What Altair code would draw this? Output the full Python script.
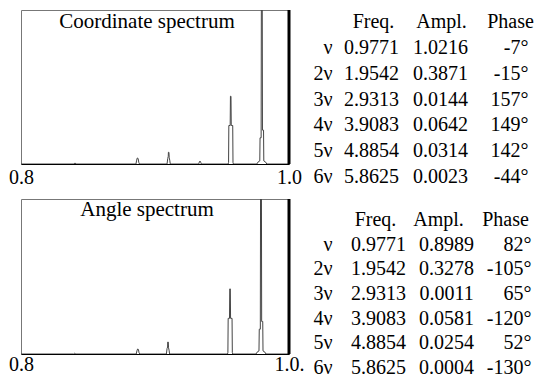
import altair as alt
import pandas as pd

FONT = "Liberation Serif, Times New Roman, Times, serif"

# ---------------- spectrum data (frequency, relative amplitude) ----------------
coord_f = [0.8000, 0.8395, 0.8403, 0.8411,
           0.8858, 0.8863, 0.8868, 0.8874, 0.8879, 0.8884,
           0.9090, 0.9095, 0.9099, 0.9100, 0.9104, 0.9106, 0.9110, 0.9114,
           0.9326, 0.9331, 0.9336, 0.9341, 0.9346,
           0.9546, 0.9549, 0.9551, 0.9561, 0.9563, 0.9567, 0.9569, 0.9580, 0.9582, 0.9585,
           0.9760, 0.9768, 0.9782, 0.9784, 0.9792, 0.9794, 0.9800, 0.9802, 0.9810, 0.9812, 0.9826, 0.9834,
           1.0000]
coord_a = [0.0, 0.0, 0.007, 0.0,
           0.0, 0.025, 0.039, 0.036, 0.010, 0.0,
           0.0, 0.035, 0.050, 0.076, 0.076, 0.040, 0.025, 0.0,
           0.0, 0.013, 0.019, 0.011, 0.0,
           0.0, 0.010, 0.25, 0.25, 0.44, 0.44, 0.25, 0.25, 0.010, 0.0,
           0.0, 0.012, 0.020, 0.17, 0.17, 1.2, 1.2, 0.22, 0.22, 0.020, 0.012, 0.0,
           0.0]

angle_f = [0.8000, 0.8393, 0.8401, 0.8409,
           0.8860, 0.8865, 0.8870, 0.8876, 0.8881, 0.8886,
           0.9085, 0.9090, 0.9094, 0.9095, 0.9099, 0.9101, 0.9105, 0.9109,
           0.9541, 0.9544, 0.9546, 0.9556, 0.9558, 0.9562, 0.9564, 0.9575, 0.9577, 0.9580,
           0.9754, 0.9762, 0.9776, 0.9778, 0.9786, 0.9788, 0.9794, 0.9796, 0.9804, 0.9806, 0.9820, 0.9828,
           1.0000]
angle_a = [0.0, 0.0, 0.005, 0.0,
           0.0, 0.020, 0.032, 0.030, 0.008, 0.0,
           0.0, 0.035, 0.045, 0.077, 0.077, 0.040, 0.025, 0.0,
           0.0, 0.010, 0.23, 0.23, 0.42, 0.42, 0.23, 0.23, 0.010, 0.0,
           0.0, 0.012, 0.020, 0.16, 0.16, 1.2, 1.2, 0.21, 0.21, 0.020, 0.012, 0.0,
           0.0]

# ---------------- table data ----------------
harmonics = ["ν", "2ν", "3ν", "4ν", "5ν", "6ν"]
rows = [1, 2, 3, 4, 5, 6]
freqs = [0.9771, 1.9542, 2.9313, 3.9083, 4.8854, 5.8625]
coord_ampl = [1.0216, 0.3871, 0.0144, 0.0642, 0.0314, 0.0023]
coord_phase = [-7, -15, 157, 149, 142, -44]
angle_ampl = [0.8989, 0.3278, 0.0011, 0.0581, 0.0254, 0.0004]
angle_phase = [82, -105, 65, -120, 52, -130]
headers = ["Freq.", "Ampl.", "Phase"]


def spectrum(fs, amps, title, title_y, height, last_label, label_pad):
    df = pd.DataFrame({"f": fs, "a": amps, "i": list(range(len(fs)))})
    xscale = alt.Scale(domain=[0.8, 1.0], nice=False, zero=False)
    yscale = alt.Scale(domain=[0, 1], nice=False, zero=False)
    axis = alt.Axis(values=[0.8, 1.0], ticks=False, tickSize=0, grid=False,
                    domainColor="black", domainWidth=1, labelFont=FONT,
                    labelFontSize=20, labelColor="black", labelPadding=label_pad,
                    labelFlush=False, labelOverlap=False, title=None,
                    labelExpr=f"datum.value > 0.9 ? '{last_label}' : '0.8'")
    line = alt.Chart(df).mark_line(color="#444", strokeWidth=1, clip=True).encode(
        x=alt.X("f:Q", scale=xscale, axis=axis),
        y=alt.Y("a:Q", scale=yscale, axis=None),
        order=alt.Order("i:Q"),
    )
    edge = alt.Chart(pd.DataFrame({"f": [1.0]})).mark_rule(color="black", strokeWidth=3).encode(
        x=alt.X("f:Q", scale=xscale, axis=axis)
    )
    ttl = alt.Chart(pd.DataFrame({"t": [title]})).mark_text(
        font=FONT, fontSize=21, color="black", align="center", baseline="middle"
    ).encode(x=alt.value(126), y=alt.value(title_y), text="t:N")
    return alt.layer(line, edge, ttl).properties(
        width=268, height=height,
        view=alt.ViewBackground(stroke="#777", strokeWidth=1),
    )


def table(ampl, phase, yrange, height, pos):
    df = pd.DataFrame({"row": rows, "h": harmonics, "freq": freqs,
                       "ampl": ampl, "phase": phase})
    y = alt.Y("row:Q", scale=alt.Scale(domain=[0, 6], range=yrange), axis=None)
    base = alt.Chart(df)
    txt = dict(font=FONT, fontSize=20, color="black", baseline="middle")
    lay = [
        base.mark_text(align="right", **txt).encode(x=alt.value(pos["h"]), y=y, text="h:N"),
        base.mark_text(align="center", **txt).encode(
            x=alt.value(pos["f"]), y=y, text=alt.Text("freq:Q", format=".4f")),
        base.mark_text(align="center", **txt).encode(
            x=alt.value(pos["a"]), y=y, text=alt.Text("ampl:Q", format=".4f")),
        base.transform_calculate(pt="datum.phase + '°'").mark_text(align="right", **txt).encode(
            x=alt.value(pos["p"]), y=y, text="pt:N"),
    ]
    for name, key in zip(headers, ["hf", "ha", "hp"]):
        hdf = pd.DataFrame({"row": [0], "t": [name]})
        lay.append(alt.Chart(hdf).mark_text(align="center", **txt).encode(
            x=alt.value(pos[key]), y=y, text="t:N"))
    return alt.layer(*lay).properties(
        width=232, height=height,
        view=alt.ViewBackground(stroke="transparent"),
    )


spec1 = spectrum(coord_f, coord_a, "Coordinate spectrum", 12, 154, "1.0", 3)
spec2 = spectrum(angle_f, angle_a, "Angle spectrum", 11, 155, "1.0.", 0)

tab1 = table(coord_ampl, coord_phase, [12, 167], 154,
             {"h": 31.5, "f": 70.5, "a": 139.5, "p": 227.5, "hf": 72.5, "ha": 140.5, "hp": 209.5})
tab2 = table(angle_ampl, angle_phase, [21, 169], 155,
             {"h": 31.5, "f": 77.5, "a": 145.5, "p": 230.5, "hf": 74.5, "ha": 137.5, "hp": 204.5})

chart = alt.concat(
    spec1, tab1, spec2, tab2, columns=2,
    spacing=alt.RowColnumber(row=35, column=12), bounds="flush",
).properties(
    padding={"left": 0, "top": 0, "right": 0, "bottom": 0},
    background="white",
).configure_view(stroke="#777")

chart.save("out.html", embed_options={"renderer": "svg", "actions": False})
